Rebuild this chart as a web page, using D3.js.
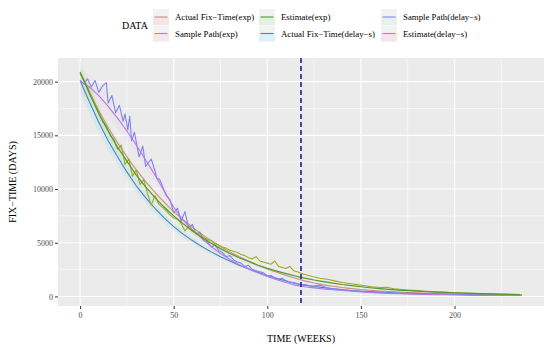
<!DOCTYPE html>
<html>
<head>
<meta charset="utf-8">
<script src="https://cdn.jsdelivr.net/npm/d3@7"></script>
<style>
  body { margin: 0; background: #fff; }
  svg { display: block; font-family: "Liberation Serif", "DejaVu Serif", serif; }
</style>
</head>
<body>
<svg id="svg" width="550" height="347"></svg>
<script>

var seriesNames = ["Actual Fix\u2212Time(exp)", "Sample Path(exp)", "Estimate(exp)",
                   "Actual Fix\u2212Time(delay\u2212s)", "Sample Path(delay\u2212s)", "Estimate(delay\u2212s)"];
var seriesColors = ["#d08a80", "#a3aa1e", "#4e9a2e", "#4a86c0", "#7f85f0", "#b07ae8"];

var xTicks = [0, 50, 100, 150, 200];
var yTicks = [0, 5000, 10000, 15000, 20000];
var cutWeek = 118;

// smooth curves, every 5 weeks
var weeks5 = d3.range(0, 236, 5);
var actualExp = [20800,19000,17300,15700,14300,13000,11800,10700,9700,8750,7900,7150,6450,5800,5200,4650,
  4150,3700,3300,2900,2550,2250,1950,1700,1450,1250,1080,950,830,730,640,570,510,460,410,370,330,300,270,245,
  220,200,180,165,150,140,130,120];
var estimateExp = [20900,18900,17000,15400,13900,12600,11300,10200,9200,8300,7500,6780,6100,5500,4950,4450,
  4000,3600,3250,2900,2620,2360,2120,1900,1700,1530,1380,1240,1110,1000,900,810,730,660,595,540,490,445,405,370,
  335,305,280,255,230,210,190,170];
var actualDelay = [20100,18100,16200,14500,13000,11600,10300,9200,8200,7300,6500,5800,5200,4650,4150,3700,
  3300,2900,2580,2250,1950,1680,1430,1200,1050,930,820,720,630,560,500,450,400,360,320,290,260,235,210,190,
  175,160,145,135,125,115,105,100];
var estimateDelay = [20000,19500,18700,17700,16600,15400,14100,12700,11300,9800,8300,7100,6200,5400,4650,4000,
  3450,2950,2550,2200,1850,1550,1300,1050,900,800,700,620,550,480,420,370,330,290,260,235,210,190,170,155,
  140,130,120,110,100,95,90,85];

// sample paths
var weeksPathExp = d3.range(0, 121, 2).concat(d3.range(124, 237, 4));
var pathExp = [20700,20200,19500,18700,17900,17100,16300,15900,15000,14600,13700,14100,12300,12800,11200,11800,
  10400,10900,9600,8500,9400,8600,8300,8000,7600,7300,7200,6800,6100,6500,6200,5900,5800,5500,5300,5200,
  4900,4800,4600,4500,4300,4200,4100,3900,3800,3600,3500,3700,3300,3200,3100,3000,3300,2800,2700,2600,
  2800,2400,2300,2150,2050,
  1850,1700,1600,1450,1300,1200,1100,1000,900,830,850,700,640,590,540,490,450,410,380,350,320,290,265,245,
  225,205,190,175,160];

var weeksPathDelay = [0,2,4,6,8,10,12,14,15,17,19,21,23,24,25.5,26.5,27.5,29,31.5,33.5,35,38,40,41,42.5,46,48,
  50,52,54,56,58,60,62,64,66,68,70,72,74,76,78,80,82,84,86,88,90,92,94,96,98,100,102,104,106,108,110,112,
  114,116,118,120,124,128,132,136,140,144,148,152,156,160,168,176,184,192,200,210,220,230,236];
var pathDelay = [20080,19800,20250,19500,20100,19000,19600,19900,18000,18700,17100,17800,16300,17000,15500,16800,
  14500,15300,13000,14000,12100,12800,11700,11000,10900,9400,9000,
  7800,8200,7000,7900,6400,6700,5800,6000,5200,5100,4600,4800,4300,4100,3700,3800,3400,3200,3100,2800,2900,
  2500,2400,2300,2200,1900,1950,1700,1600,1700,1450,1350,1300,1200,1050,1100,950,1050,800,700,650,560,480,
  430,380,350,300,260,230,200,180,150,130,110,100];

var svg = d3.select("#svg");
var panel = {left: 58, right: 544, top: 58, bottom: 306};

var xScale = d3.scaleLinear().domain([-11.8, 247.8]).range([panel.left, panel.right]);
var yScale = d3.scaleLinear().domain([-890, 22200]).range([panel.bottom, panel.top]);

svg.append("rect")
  .attr("x", panel.left).attr("y", panel.top)
  .attr("width", panel.right - panel.left).attr("height", panel.bottom - panel.top)
  .attr("fill", "#ebebeb");

// grid
var grid = svg.append("g");
grid.selectAll(".xminor").data([25, 75, 125, 175, 225]).enter().append("line")
  .attr("x1", (d) => xScale(d)).attr("x2", (d) => xScale(d))
  .attr("y1", panel.top).attr("y2", panel.bottom)
  .attr("stroke", "#fff").attr("stroke-width", 0.55);
grid.selectAll(".yminor").data([2500, 7500, 12500, 17500]).enter().append("line")
  .attr("y1", (d) => yScale(d)).attr("y2", (d) => yScale(d))
  .attr("x1", panel.left).attr("x2", panel.right)
  .attr("stroke", "#fff").attr("stroke-width", 0.55);
grid.selectAll(".xmajor").data(xTicks).enter().append("line")
  .attr("x1", (d) => xScale(d)).attr("x2", (d) => xScale(d))
  .attr("y1", panel.top).attr("y2", panel.bottom)
  .attr("stroke", "#fff").attr("stroke-width", 1.1);
grid.selectAll(".ymajor").data(yTicks).enter().append("line")
  .attr("y1", (d) => yScale(d)).attr("y2", (d) => yScale(d))
  .attr("x1", panel.left).attr("x2", panel.right)
  .attr("stroke", "#fff").attr("stroke-width", 1.1);

// faint bands around the smooth curves
function band(w, vals, frac, color){
  var area = d3.area()
    .x((d, i) => xScale(w[i]))
    .y0((d) => yScale(d * (1 - frac)))
    .y1((d) => yScale(d * (1 + frac)));
  svg.append("path").datum(vals).attr("d", area)
    .attr("fill", color).attr("fill-opacity", 0.08);
}
band(weeks5, estimateExp, 0.05, "#7ad151");
band(weeks5, actualDelay, 0.06, "#00cfd4");
band(weeks5, estimateDelay, 0.06, "#f59ad0");

function drawLine(w, vals, color, width){
  var line = d3.line()
    .x((d, i) => xScale(w[i]))
    .y((d) => yScale(d));
  svg.append("path").datum(vals).attr("d", line)
    .attr("fill", "none").attr("stroke", color)
    .attr("stroke-width", width).attr("stroke-linejoin", "round");
}
drawLine(weeks5, actualExp, seriesColors[0], 1.1);
drawLine(weeks5, actualDelay, seriesColors[3], 1.1);
drawLine(weeksPathDelay, pathDelay, seriesColors[4], 1.1);
drawLine(weeks5, estimateDelay, seriesColors[5], 1.1);
drawLine(weeksPathExp, pathExp, seriesColors[1], 1.1);
drawLine(weeks5, estimateExp, seriesColors[2], 1.2);

svg.append("line")
  .attr("x1", xScale(cutWeek)).attr("x2", xScale(cutWeek))
  .attr("y1", panel.top).attr("y2", panel.bottom)
  .attr("stroke", "#2b2ba8").attr("stroke-width", 1.7)
  .attr("stroke-dasharray", "5,3");

// axes
var xAxis = svg.append("g")
  .attr("transform", "translate(0," + panel.bottom + ")")
  .call(d3.axisBottom(xScale).tickValues(xTicks).tickSize(3).tickPadding(3));
var yAxis = svg.append("g")
  .attr("transform", "translate(" + panel.left + ",0)")
  .call(d3.axisLeft(yScale).tickValues(yTicks).tickFormat(d3.format("d")).tickSize(3).tickPadding(2));
[xAxis, yAxis].forEach(function(a){
  a.select(".domain").remove();
  a.selectAll(".tick line").attr("stroke", "#333").attr("stroke-width", 1);
  a.selectAll(".tick text").attr("fill", "#4d4d4d")
    .style("font-family", "Liberation Serif").style("font-size", "8px");
});

svg.append("text")
  .attr("x", (panel.left + panel.right) / 2).attr("y", 342)
  .attr("text-anchor", "middle").style("font-size", "10px")
  .text("TIME (WEEKS)");
svg.append("text")
  .attr("transform", "translate(16," + ((panel.top + panel.bottom) / 2) + ") rotate(-90)")
  .attr("text-anchor", "middle").style("font-size", "10px")
  .text("FIX\u2212TIME (DAYS)");

// legend
var legend = svg.append("g");
legend.append("text").attr("x", 122).attr("y", 29).style("font-size", "10px").text("DATA");
var colX = [153, 259, 381];
var rowY = [9, 25.5];
var keyTint = ["#f8d6d6", "#f8dede", "#d6efd0", "#cdf0f0", "#d8efe6", "#f8d6e8"];
seriesNames.forEach(function(name, i){
  var cx = colX[Math.floor(i / 2)], cy = rowY[i % 2];
  var g = legend.append("g").attr("transform", "translate(" + cx + "," + cy + ")");
  g.append("rect").attr("width", 16).attr("height", 16).attr("fill", "#f2f2f2");
  g.append("rect").attr("y", 8).attr("width", 16).attr("height", 8).attr("fill", keyTint[i]).attr("opacity", 0.5);
  g.append("line").attr("x1", 1.5).attr("x2", 14.5).attr("y1", 8).attr("y2", 8)
    .attr("stroke", seriesColors[i]).attr("stroke-width", 1.1);
  g.append("text").attr("x", 22).attr("y", 11.3).style("font-size", "8.8px").text(name);
});

</script>
</body>
</html>
